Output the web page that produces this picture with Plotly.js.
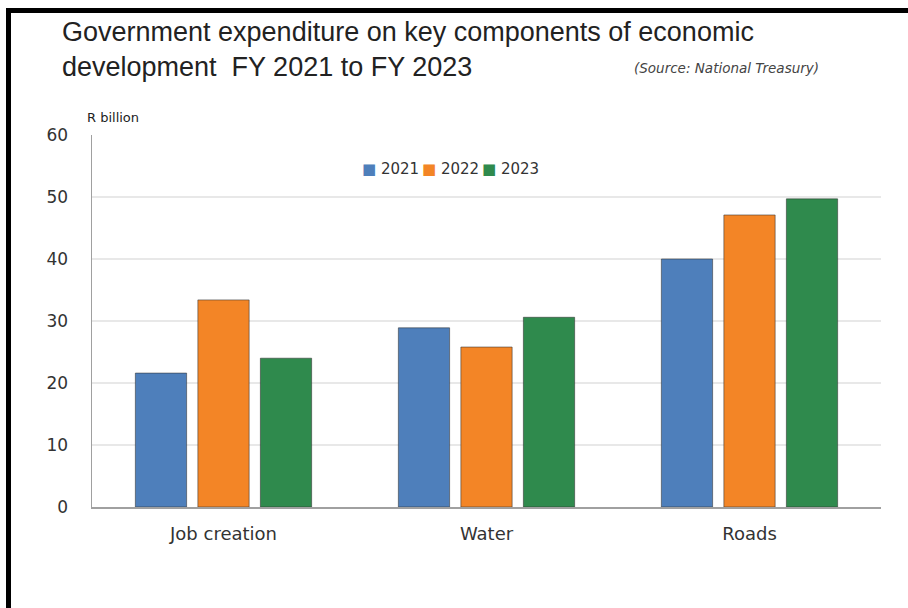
<!DOCTYPE html>
<html>
<head>
<meta charset="utf-8">
<script src="https://cdn.plot.ly/plotly-3.0.1.min.js"></script>
<style>html,body{margin:0;padding:0;background:#fff;}#chart{width:908px;height:608px;}</style>
</head>
<body>
<div id="chart"></div>
<script>
const categories = ["Job creation", "Water", "Roads"];
const years = ["2021", "2022", "2023"];
const values2021 = [21.6, 28.9, 40.0];
const values2022 = [33.4, 25.8, 47.1];
const values2023 = [24.0, 30.6, 49.7];
const colors = ["#4e7fbb", "#f38526", "#2f8a4d"];
const yTicks = [0, 10, 20, 30, 40, 50, 60];

const series = [values2021, values2022, values2023];
const traces = series.map((vals, i) => ({
  type: "bar",
  name: years[i],
  x: categories,
  y: vals,
  marker: { color: colors[i], line: { color: "rgba(50,50,50,0.55)", width: 1 } },
  hoverinfo: "x+y+name"
}));

// plot area in px: left 92, width 789, top 135, height 372
const PL = 92, PW = 789, PT = 135, PH = 372;
const px2x = px => (px - PL) / PW;
const px2y = py => 1 - (py - PT) / PH;

// compact legend drawn as annotations (one per series)
const legendAnnots = years.map((yr, i) => ({
  text: '<span style="color:' + colors[i] + '">\u25A0</span> ' + yr,
  xref: "paper", yref: "paper",
  x: px2x(360 + i * 60), y: px2y(169),
  xanchor: "left", yanchor: "middle",
  showarrow: false,
  font: { family: "DejaVu Sans, sans-serif", size: 15, color: "#333" }
}));

const layout = {
  width: 908,
  height: 608,
  paper_bgcolor: "#fff",
  plot_bgcolor: "#fff",
  margin: { l: 92, r: 27, t: 135, b: 101 },
  barmode: "group",
  bargap: 0.287,
  bargroupgap: 0.18,
  showlegend: false,
  title: {
    text: "Government expenditure on key components of economic<br>development  FY 2021 to FY 2023",
    font: { family: "Liberation Sans, Arial, sans-serif", size: 27, color: "#222" },
    xref: "container", yref: "container",
    x: 62 / 908, xanchor: "left",
    y: 1 - 41 / 608, yanchor: "top"
  },
  xaxis: {
    type: "category",
    showline: true, linecolor: "#a0a0a0", linewidth: 1.5,
    ticks: "", showgrid: false,
    tickfont: { family: "DejaVu Sans, sans-serif", size: 18, color: "#333" },
    ticklabelstandoff: 10,
    fixedrange: true
  },
  yaxis: {
    range: [0, 60],
    tickvals: yTicks,
    ticktext: yTicks.map(String),
    showline: true, linecolor: "#a0a0a0", linewidth: 1.5,
    showgrid: true, gridcolor: "#e8e8e8", gridwidth: 1.5,
    zeroline: false,
    ticks: "",
    tickfont: { family: "DejaVu Sans, sans-serif", size: 17, color: "#333" },
    ticklabelstandoff: 19,
    fixedrange: true
  },
  annotations: legendAnnots.concat([
    {
      text: "(Source: National Treasury)",
      xref: "paper", yref: "paper",
      x: px2x(632), y: px2y(68),
      xanchor: "left", yanchor: "middle",
      showarrow: false,
      font: { family: "DejaVu Sans, sans-serif", size: 13.5, color: "#444", style: "italic" }
    },
    {
      text: "R billion",
      xref: "paper", yref: "paper",
      x: px2x(85), y: px2y(117),
      xanchor: "left", yanchor: "middle",
      showarrow: false,
      font: { family: "DejaVu Sans, sans-serif", size: 13, color: "#222" }
    }
  ]),
  shapes: [
    { type: "line", xref: "paper", yref: "paper", x0: px2x(8.5), x1: px2x(8.5), y0: px2y(8), y1: px2y(608), line: { color: "#000", width: 5 } },
    { type: "line", xref: "paper", yref: "paper", x0: px2x(6), x1: px2x(908), y0: px2y(10.5), y1: px2y(10.5), line: { color: "#000", width: 5 } }
  ]
};

Plotly.newPlot("chart", traces, layout, { displayModeBar: false, staticPlot: true });
</script>
</body>
</html>
